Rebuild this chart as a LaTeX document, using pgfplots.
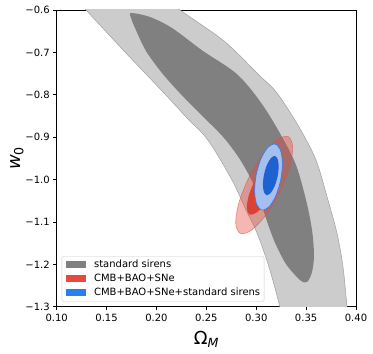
\documentclass[border=0pt]{standalone}
\usepackage{fontspec}
\setmainfont{DejaVu Sans}
\usepackage{pgfplots}
\pgfplotsset{compat=1.18}

\definecolor{sslight}{HTML}{CCCCCC}
\definecolor{ssedge}{HTML}{A0A0A0}
\definecolor{ssdark}{HTML}{808080}
\definecolor{cmbred}{HTML}{E8493F}
\definecolor{cmbredin}{HTML}{DC4234}
\definecolor{combblue}{HTML}{2A7FF0}
\definecolor{combbluelt}{HTML}{A5C0EE}
\definecolor{combbluein}{HTML}{1E62D2}

\begin{document}
\begin{tikzpicture}
\begin{axis}[
  scale only axis,
  width=299.3pt, height=296.7pt,
  xmin=0.10, xmax=0.40, ymin=-1.3, ymax=-0.6,
  xtick={0.10,0.15,0.20,0.25,0.30,0.35,0.40},
  xticklabels={0.10,0.15,0.20,0.25,0.30,0.35,0.40},
  ytick={-1.3,-1.2,-1.1,-1.0,-0.9,-0.8,-0.7,-0.6},
  yticklabels={−1.3,−1.2,−1.1,−1.0,−0.9,−0.8,−0.7,−0.6},
  tick label style={font=\fontsize{10}{12}\selectfont},
  tick align=outside, xtick pos=bottom, ytick pos=left,
  major tick length=3.5pt,
  every tick/.style={black, line width=0.6pt},
  axis line style={line width=0.6pt},
  xlabel={Ω\textsubscript{\textit{M}}},
  ylabel={\textit{w}\textsubscript{0}},
  xlabel style={font=\fontsize{18}{20}\selectfont, inner sep=0pt,
    at={(axis description cs:0.5,0)}, anchor=north, yshift=-24.3pt},
  ylabel style={font=\fontsize{18}{20}\selectfont, inner sep=0pt,
    at={(axis description cs:-0.156,0.5)}, anchor=north},
  legend cell align=left,
  legend image code/.code={\fill[sharp corners, fill opacity=1, #1, draw=none] (0pt,-3.5pt) rectangle (20pt,3.5pt); \path (28pt,0pt);},
  legend style={at={(axis description cs:0.0167,0.0169)}, anchor=south west,
    font=\fontsize{10}{12}\selectfont, draw=black!20, rounded corners=2pt,
    fill=white, fill opacity=0.8, text opacity=1,
    inner xsep=4pt, inner ysep=4pt, row sep=5pt,
    nodes={inner sep=0pt, text height=7.3pt, text depth=1.7pt}},
]
\coordinate (sw) at (rel axis cs:0,0);
\coordinate (ne) at (rel axis cs:1,1);

% standard sirens, 2 sigma band
\addplot[forget plot, fill=sslight, draw=ssedge, line width=0.5pt, smooth] coordinates {
  (0.1113,-0.5528) (0.1294,-0.6000) (0.1675,-0.6967) (0.2075,-0.7958)
  (0.2306,-0.8548) (0.2516,-0.9068) (0.2757,-1.0011) (0.2897,-1.0719)
  (0.3008,-1.1262) (0.3128,-1.2064) (0.3238,-1.3008) (0.3278,-1.3480)
  (0.3930,-1.3480) (0.3910,-1.3008) (0.3870,-1.2064) (0.3809,-1.1262)
  (0.3719,-1.0483) (0.3599,-0.9539) (0.3429,-0.8761) (0.3208,-0.7958)
  (0.3028,-0.7534) (0.2677,-0.6732) (0.2236,-0.6000) (0.1985,-0.5528)
} -- cycle;

% standard sirens, 1 sigma
\addplot[forget plot, fill=ssdark, draw=none, smooth cycle] coordinates {
  (0.1745,-0.6071) (0.1935,-0.6165) (0.2156,-0.6425) (0.2466,-0.6967)
  (0.2817,-0.7534) (0.3098,-0.8360) (0.3378,-0.9539) (0.3499,-1.0483)
  (0.3559,-1.1191) (0.3579,-1.1781) (0.3559,-1.2182) (0.3509,-1.2419)
  (0.3439,-1.2371) (0.3300,-1.2000) (0.3190,-1.1500) (0.3110,-1.1000)
  (0.3040,-1.0500) (0.2950,-1.0000) (0.2830,-0.9500) (0.2670,-0.9000)
  (0.2460,-0.8500) (0.2250,-0.8000) (0.2060,-0.7500) (0.1895,-0.6967)
  (0.1785,-0.6425) (0.1745,-0.6189)
};

% CMB+BAO+SNe, 2 sigma
\addplot[forget plot, fill=cmbred, fill opacity=0.4, draw=cmbred, draw opacity=0.6, line width=0.6pt, smooth cycle] coordinates {
  (0.3322,-0.8990) (0.3366,-0.9232) (0.3333,-0.9715) (0.3232,-1.0309)
  (0.3091,-1.0854) (0.2946,-1.1206) (0.2838,-1.1269) (0.2794,-1.1026)
  (0.2827,-1.0544) (0.2927,-0.9950) (0.3069,-0.9404) (0.3213,-0.9053)
};
% CMB+BAO+SNe, 1 sigma
\addplot[forget plot, fill=cmbredin, draw=none, smooth cycle] coordinates {
  (0.3228,-0.9433) (0.3254,-0.9581) (0.3234,-0.9876) (0.3173,-1.0239)
  (0.3087,-1.0572) (0.2998,-1.0787) (0.2932,-1.0825) (0.2905,-1.0677)
  (0.2925,-1.0382) (0.2987,-1.0020) (0.3073,-0.9686) (0.3161,-0.9471)
};

% combined, 2 sigma
\addplot[forget plot, fill=combbluelt, draw=combblue, line width=0.6pt, smooth cycle] coordinates {
  (0.3188,-0.9163) (0.3241,-0.9296) (0.3262,-0.9601) (0.3246,-0.9997)
  (0.3197,-1.0379) (0.3128,-1.0643) (0.3058,-1.0718) (0.3005,-1.0585)
  (0.2984,-1.0280) (0.3000,-0.9884) (0.3049,-0.9502) (0.3118,-0.9239)
};
% combined, 1 sigma
\addplot[forget plot, fill=combbluein, draw=none, smooth cycle] coordinates {
  (0.3188,-0.9444) (0.3216,-0.9523) (0.3225,-0.9704) (0.3213,-0.9939)
  (0.3183,-1.0165) (0.3143,-1.0322) (0.3104,-1.0367) (0.3076,-1.0288)
  (0.3067,-1.0107) (0.3079,-0.9871) (0.3109,-0.9645) (0.3149,-0.9489)
};

\addlegendimage{fill=ssdark}
\addlegendentry{standard sirens}
\addlegendimage{fill=cmbred}
\addlegendentry{CMB+BAO+SNe}
\addlegendimage{fill=combblue}
\addlegendentry{CMB+BAO+SNe+standard sirens}
\end{axis}
\pgfresetboundingbox
\path ([shift={(-56.7pt,-47.3pt)}]sw) rectangle ([shift={(17pt,10pt)}]ne);
\end{tikzpicture}
\end{document}
